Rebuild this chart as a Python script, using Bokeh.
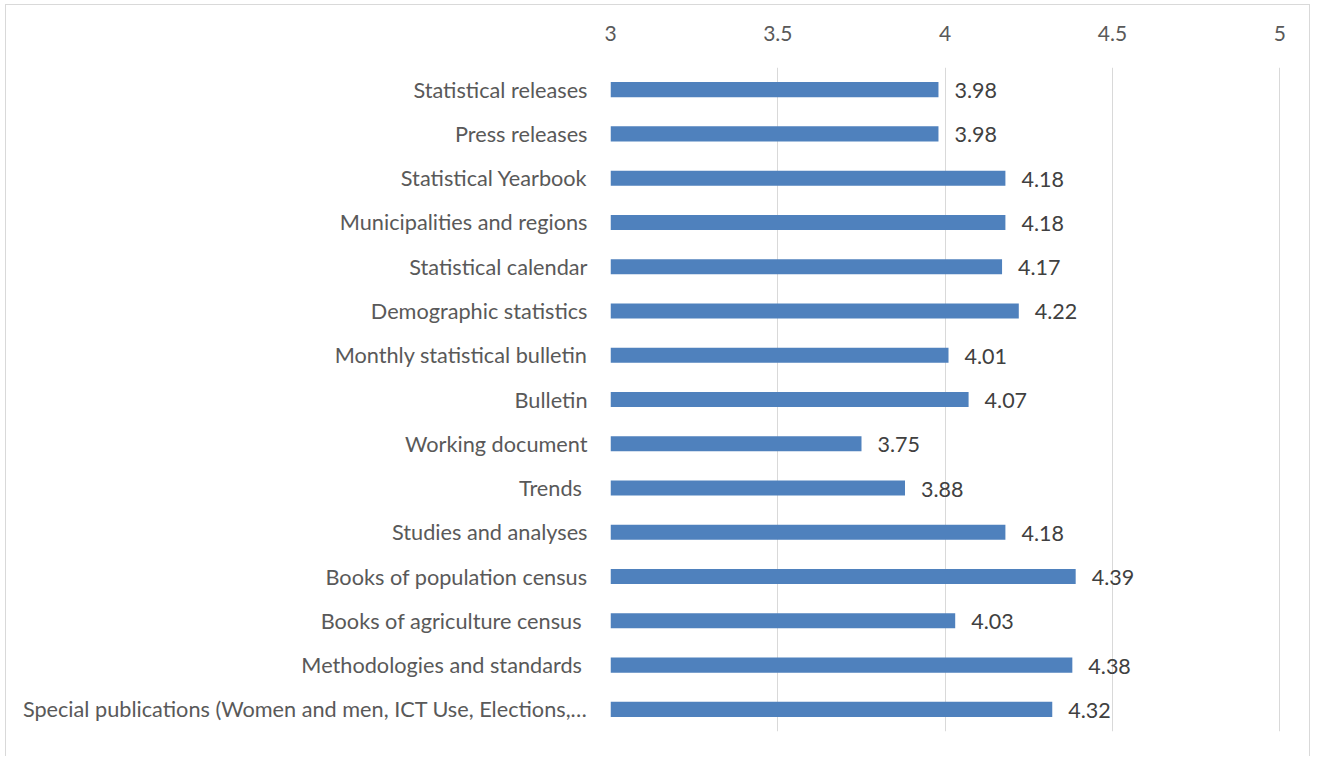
from bokeh.plotting import figure
from bokeh.models import FactorRange, Range1d, ColumnDataSource, FixedTicker
from bokeh.embed import file_html
from bokeh.resources import INLINE
from bokeh.core.properties import value

categories = [
    "Statistical releases",
    "Press releases",
    "Statistical Yearbook",
    "Municipalities and regions",
    "Statistical calendar",
    "Demographic statistics",
    "Monthly statistical bulletin",
    "Bulletin",
    "Working document",
    "Trends ",
    "Studies and analyses",
    "Books of population census",
    "Books of agriculture census ",
    "Methodologies and standards ",
    "Special publications (Women and men, ICT Use, Elections,\u2026",
]
scores = [3.98, 3.98, 4.18, 4.18, 4.17, 4.22, 4.01, 4.07, 3.75, 3.88, 4.18, 4.39, 4.03, 4.38, 4.32]
x_ticks = [3, 3.5, 4, 4.5, 5]
x_tick_labels = {3: "3", 3.5: "3.5", 4: "4", 4.5: "4.5", 5: "5"}

FONT = "Lato"

src = ColumnDataSource(dict(
    cat=categories,
    val=scores,
    base=[3] * len(scores),
    lab=[f"{v:.2f}" for v in scores],
))

p = figure(
    width=1305, height=752,
    y_range=FactorRange(*reversed(categories), range_padding=0),
    x_range=Range1d(3, 5.002),
    output_backend="svg", toolbar_location=None,
    x_axis_location="above",
    min_border_left=604, min_border_right=31, min_border_top=62, min_border_bottom=26,
)
p.styles = {
    "margin-left": "5px",
    "margin-top": "4px",
    "border-top": "1px solid #d9d9d9",
    "border-left": "1px solid #d9d9d9",
    "border-right": "1px solid #d9d9d9",
}
p.outline_line_color = None

p.hbar(y="cat", left="base", right="val", height=0.34, source=src,
       fill_color="#4f81bd", line_color=None)
p.text(x="val", y="cat", text="lab", source=src, x_offset=16, y_offset=1,
       text_baseline="middle", text_align="left",
       text_font=value(FONT), text_font_size="21.5px", text_color="#404040")

xa = p.xaxis[0]
xa.ticker = FixedTicker(ticks=x_ticks)
xa.major_label_overrides = x_tick_labels
xa.axis_line_color = None
xa.major_tick_line_color = None
xa.minor_tick_line_color = None
xa.major_label_text_font = FONT
xa.major_label_text_font_size = "21px"
xa.major_label_text_color = "#595959"
xa.major_label_standoff = 21

ya = p.yaxis[0]
ya.axis_line_color = None
ya.major_tick_line_color = None
ya.minor_tick_line_color = None
ya.major_label_text_font = FONT
ya.major_label_text_font_size = "21.7px"
ya.major_label_text_color = "#595959"
ya.major_label_standoff = 17

p.xgrid.grid_line_color = "#d9d9d9"
p.xgrid.grid_line_width = 1
p.xgrid.ticker = FixedTicker(ticks=x_ticks)
p.ygrid.grid_line_color = None

open("out.html", "w").write(file_html(p, INLINE))
